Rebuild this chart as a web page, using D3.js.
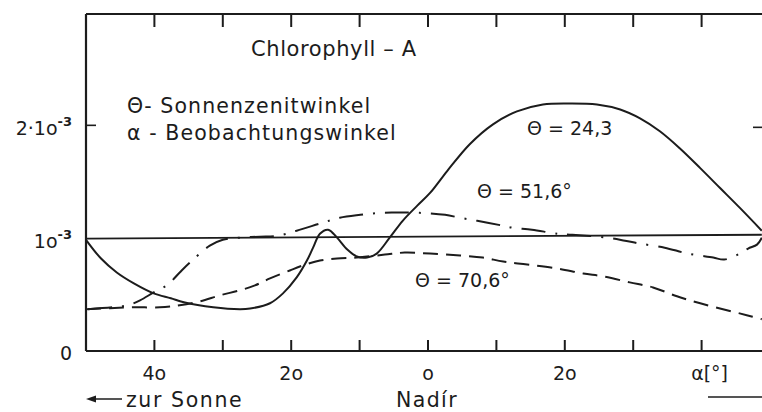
<!DOCTYPE html>
<html>
<head>
<meta charset="utf-8">
<script src="https://cdn.jsdelivr.net/npm/d3@7"></script>
<style>
  html, body { margin: 0; padding: 0; background: #fff; }
  svg { display: block; }
  text { font-family: "DejaVu Sans", sans-serif; fill: #1c1c1c; }
</style>
</head>
<body>
<svg id="chart" width="762" height="412"></svg>
<script>
// Viewing angle α in degrees (negative = towards the sun), reflectance in units of 10^-3
const alpha24 = [-50, -47.8, -45.5, -43.0, -40.1, -37.6, -35.7, -31.4, -27.5, -26.0, -23.1, -21.2, -19.2, -17.7, -16.8, -15.8, -14.6, -13.3, -11.8, -10.4, -8.9, -7.5, -5.6, -3.7, -1.6, 0.3, 2.8, 6.1, 9.5, 13.0, 16.8, 20.8, 24.7, 28.1, 31.0, 33.9, 36.8, 39.8, 42.7, 45.6, 48.8];
const theta24 = [0.99, 0.823, 0.699, 0.602, 0.513, 0.469, 0.434, 0.389, 0.372, 0.378, 0.425, 0.513, 0.655, 0.805, 0.92, 1.044, 1.08, 1.009, 0.903, 0.841, 0.832, 0.867, 1.009, 1.159, 1.292, 1.407, 1.602, 1.841, 2.018, 2.133, 2.195, 2.204, 2.195, 2.15, 2.071, 1.956, 1.805, 1.628, 1.451, 1.274, 1.071];

const alpha52 = [-49.7, -46.1, -43.9, -42.1, -40.1, -38.0, -36.3, -34.8, -31.9, -30.0, -27.5, -24.6, -21.9, -19.2, -15.4, -12.9, -9.9, -7.0, -4.1, -1.2, 2.5, 4.7, 7.2, 11.0, 12.4, 15.2, 18.9, 21.1, 26.2, 28.8, 31.0, 34.6, 38.0, 41.7, 43.3, 45.6, 46.8, 48.1, 48.8];
const theta52 = [0.372, 0.389, 0.407, 0.451, 0.522, 0.593, 0.699, 0.788, 0.938, 0.991, 1.009, 1.018, 1.027, 1.071, 1.142, 1.186, 1.212, 1.23, 1.232, 1.23, 1.212, 1.186, 1.159, 1.115, 1.097, 1.08, 1.044, 1.035, 1.009, 0.982, 0.956, 0.92, 0.867, 0.832, 0.814, 0.867, 0.912, 0.947, 1.009];

const alpha71 = [-50, -46.5, -43.1, -39.2, -36.3, -33.3, -30.4, -27.5, -25.3, -23.1, -20.2, -18.3, -15.8, -13.3, -10.4, -6.3, -3.4, 0.3, 4.7, 8.0, 11.0, 14.5, 18.9, 22.7, 25.6, 29.5, 32.9, 36.4, 39.8, 43.7, 46.6, 48.8];
const theta71 = [0.372, 0.381, 0.389, 0.389, 0.407, 0.442, 0.496, 0.54, 0.584, 0.646, 0.717, 0.761, 0.805, 0.823, 0.832, 0.858, 0.876, 0.867, 0.85, 0.832, 0.796, 0.77, 0.735, 0.69, 0.664, 0.611, 0.566, 0.487, 0.425, 0.363, 0.319, 0.283];

// reference level near 10^-3
const alphaRef = [-50, 48.8];
const levelRef = [1.0, 1.035];

const xTicks = [-40, -30, -20, -10, 0, 10, 20, 30, 40];
const xLabelValues = [-40, -20, 0, 20, 40];
const xLabelTexts = ["4o", "2o", "o", "2o", "α[°]"];
const yLabelValues = [0, 1, 2];
const yLabelMain = ["0", "1o", "2·1o"];
const yLabelExp = ["", "-3", "-3"];

const svg = d3.select("#chart");
const ink = "#1c1c1c";

const x = d3.scaleLinear().domain([-50, 50]).range([86, 770]);
const y = d3.scaleLinear().domain([0, 3]).range([351, 14]);

const line = d3.line().x(d => x(d[0])).y(d => y(d[1])).curve(d3.curveCatmullRom.alpha(0.5));
const zip = (a, b) => a.map((v, i) => [v, b[i]]);

// frame: left, top and bottom edges
svg.append("line").attr("x1", x(-50)).attr("x2", x(-50)).attr("y1", y(3)).attr("y2", y(0))
  .attr("stroke", ink).attr("stroke-width", 2.2);
svg.append("line").attr("x1", x(-50)).attr("x2", 762).attr("y1", y(3)).attr("y2", y(3))
  .attr("stroke", ink).attr("stroke-width", 2);
svg.append("line").attr("x1", x(-50)).attr("x2", 762).attr("y1", y(0)).attr("y2", y(0))
  .attr("stroke", ink).attr("stroke-width", 2.2);

// inward ticks on bottom and top
svg.append("g").selectAll("line").data(xTicks).join("line")
  .attr("x1", d => x(d)).attr("x2", d => x(d)).attr("y1", y(0)).attr("y2", y(0) - 11)
  .attr("stroke", ink).attr("stroke-width", 2);
svg.append("g").selectAll("line").data(xTicks).join("line")
  .attr("x1", d => x(d)).attr("x2", d => x(d)).attr("y1", y(3)).attr("y2", y(3) + 13)
  .attr("stroke", ink).attr("stroke-width", 2);

// ticks at 2·10^-3
svg.append("line").attr("x1", x(-50)).attr("x2", x(-50) + 10).attr("y1", y(2) - 1).attr("y2", y(2) - 1)
  .attr("stroke", ink).attr("stroke-width", 1.6);
svg.append("line").attr("x1", 753).attr("x2", 762).attr("y1", y(2) + 1).attr("y2", y(2) + 1)
  .attr("stroke", ink).attr("stroke-width", 1.6);

// curves
svg.append("path").attr("d", line(zip(alphaRef, levelRef)))
  .attr("fill", "none").attr("stroke", ink).attr("stroke-width", 1.8);
svg.append("path").attr("d", line(zip(alpha71, theta71)))
  .attr("fill", "none").attr("stroke", ink).attr("stroke-width", 2)
  .attr("stroke-dasharray", "15 8");
svg.append("path").attr("d", line(zip(alpha52, theta52)))
  .attr("fill", "none").attr("stroke", ink).attr("stroke-width", 2)
  .attr("stroke-dasharray", "24 10 2 10");
svg.append("path").attr("d", line(zip(alpha24, theta24)))
  .attr("fill", "none").attr("stroke", ink).attr("stroke-width", 2);

// y labels
yLabelValues.forEach((v, i) => {
  const t = svg.append("text").attr("x", 72).attr("y", y(v) + 9)
    .attr("text-anchor", "end").style("font-size", "19px");
  t.append("tspan").text(yLabelMain[i]);
  if (yLabelExp[i]) t.append("tspan").attr("dy", -9).style("font-size", "13px").style("font-weight", "bold").text(yLabelExp[i]);
});

// x labels
xLabelValues.forEach((v, i) => {
  svg.append("text").attr("x", x(v) + (i === 4 ? 8 : 0)).attr("y", 380)
    .attr("text-anchor", "middle").style("font-size", "19px").text(xLabelTexts[i]);
});

// direction hints
svg.append("line").attr("x1", 90).attr("x2", 122).attr("y1", 399).attr("y2", 399)
  .attr("stroke", ink).attr("stroke-width", 1.5);
svg.append("path").attr("d", "M86,399 L96,395.5 L96,402.5 Z").attr("fill", ink);
svg.append("text").attr("x", 126).attr("y", 407).style("font-size", "20.5px").style("letter-spacing", "1.6px").text("zur Sonne");
svg.append("text").attr("x", 396).attr("y", 407).style("font-size", "20.5px").style("letter-spacing", "1.4px").text("Nadír");
svg.append("line").attr("x1", 708).attr("x2", 770).attr("y1", 397).attr("y2", 397)
  .attr("stroke", ink).attr("stroke-width", 1.5);

// title and legend
svg.append("text").attr("x", 251).attr("y", 56).style("font-size", "21px").style("letter-spacing", "0.6px").text("Chlorophyll – A");
svg.append("text").attr("x", 127).attr("y", 113).style("font-size", "20.5px").style("letter-spacing", "1.1px").text("Θ- Sonnenzenitwinkel");
svg.append("text").attr("x", 127).attr("y", 140).style("font-size", "20.5px").style("letter-spacing", "1.1px").text("α - Beobachtungswinkel");

// curve annotations
svg.append("text").attr("x", 527).attr("y", 135).style("font-size", "19px").text("Θ = 24,3");
svg.append("text").attr("x", 477).attr("y", 198).style("font-size", "19px").text("Θ = 51,6°");
svg.append("text").attr("x", 415).attr("y", 287).style("font-size", "19px").text("Θ = 70,6°");
</script>
</body>
</html>
